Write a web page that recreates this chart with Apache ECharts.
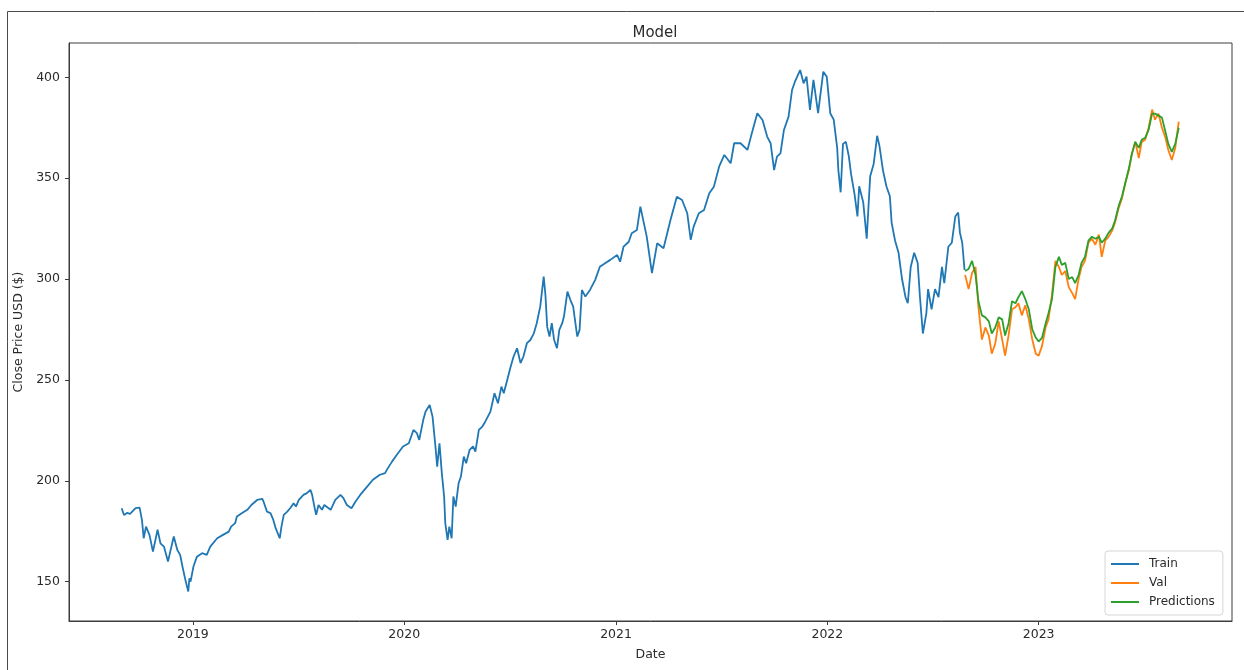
<!DOCTYPE html>
<html>
<head>
<meta charset="utf-8">
<title>Model</title>
<script src="https://cdn.jsdelivr.net/npm/echarts@6/dist/echarts.min.js"></script>
<style>
  html, body { margin: 0; padding: 0; background: #fff; }
  #chart { width: 1244px; height: 670px; }
</style>
</head>
<body>
<div id="chart"></div>
<script>
// train close
const trainDates = [
  '2018-08-31','2018-09-04','2018-09-10','2018-09-14','2018-09-24','2018-10-01','2018-10-05','2018-10-08','2018-10-12','2018-10-18',
  '2018-10-24','2018-11-01','2018-11-06','2018-11-12','2018-11-19','2018-11-23','2018-11-29','2018-12-05','2018-12-10','2018-12-14',
  '2018-12-19','2018-12-24','2018-12-26','2018-12-28','2019-01-02','2019-01-08','2019-01-17','2019-01-25','2019-01-31','2019-02-12',
  '2019-02-22','2019-03-04','2019-03-08','2019-03-15','2019-03-18','2019-03-27','2019-04-05','2019-04-12','2019-04-22','2019-05-01',
  '2019-05-03','2019-05-09','2019-05-15','2019-05-20','2019-05-24','2019-05-31','2019-06-03','2019-06-07','2019-06-13','2019-06-18',
  '2019-06-24','2019-06-28','2019-07-03','2019-07-11','2019-07-17','2019-07-23','2019-07-26','2019-07-31','2019-08-02','2019-08-06',
  '2019-08-12','2019-08-16','2019-08-27','2019-09-04','2019-09-13','2019-09-18','2019-09-24','2019-10-02','2019-10-09','2019-10-17',
  '2019-10-29','2019-11-08','2019-11-20','2019-11-29','2019-12-02','2019-12-11','2019-12-19','2019-12-30','2020-01-09','2020-01-17',
  '2020-01-23','2020-01-27','2020-02-03','2020-02-07','2020-02-14','2020-02-19','2020-02-24','2020-02-27','2020-03-02','2020-03-06',
  '2020-03-10','2020-03-12','2020-03-16','2020-03-19','2020-03-23','2020-03-26','2020-03-30','2020-04-04','2020-04-08','2020-04-13',
  '2020-04-17','2020-04-23','2020-04-29','2020-05-03','2020-05-09','2020-05-15','2020-05-20','2020-05-29','2020-06-05','2020-06-11',
  '2020-06-17','2020-06-21','2020-06-27','2020-07-03','2020-07-08','2020-07-14','2020-07-20','2020-07-25','2020-07-31','2020-08-06',
  '2020-08-12','2020-08-17','2020-08-23','2020-08-29','2020-09-01','2020-09-04','2020-09-08','2020-09-12','2020-09-16','2020-09-21',
  '2020-09-25','2020-09-30','2020-10-03','2020-10-09','2020-10-14','2020-10-19','2020-10-22','2020-10-26','2020-10-30','2020-11-03',
  '2020-11-09','2020-11-17','2020-11-26','2020-12-04','2020-12-13','2020-12-22','2021-01-03','2021-01-08','2021-01-14','2021-01-23',
  '2021-01-28','2021-02-06','2021-02-12','2021-02-23','2021-03-04','2021-03-13','2021-03-24','2021-04-05','2021-04-16','2021-04-25',
  '2021-05-04','2021-05-10','2021-05-15','2021-05-24','2021-06-02','2021-06-11','2021-06-19','2021-06-28','2021-07-07','2021-07-18',
  '2021-07-24','2021-08-04','2021-08-16','2021-08-22','2021-09-02','2021-09-11','2021-09-19','2021-09-25','2021-10-01','2021-10-06',
  '2021-10-12','2021-10-18','2021-10-26','2021-11-01','2021-11-06','2021-11-15','2021-11-21','2021-11-26','2021-12-02','2021-12-08',
  '2021-12-16','2021-12-25','2021-12-31','2022-01-06','2022-01-12','2022-01-18','2022-01-20','2022-01-24','2022-01-28','2022-02-02',
  '2022-02-07','2022-02-11','2022-02-17','2022-02-22','2022-02-25','2022-03-04','2022-03-10','2022-03-16','2022-03-22','2022-03-28',
  '2022-04-01','2022-04-07','2022-04-13','2022-04-19','2022-04-22','2022-04-28','2022-05-04','2022-05-10','2022-05-16','2022-05-20',
  '2022-05-25','2022-05-31','2022-06-06','2022-06-10','2022-06-15','2022-06-21','2022-06-24','2022-06-30','2022-07-06','2022-07-12',
  '2022-07-18','2022-07-22','2022-07-29','2022-08-04','2022-08-10','2022-08-15','2022-08-18','2022-08-22','2022-08-26'
];
const trainClose = [
  186.4,183,184.2,183.5,186.4,186.7,180.6,171.5,177.3,173.2,
  164.9,175.7,169,167.4,160,165,172.4,165.8,163.3,157.5,
  150.9,145.1,151.7,150,157.5,162.4,164.1,163.3,167.4,171.5,
  173.2,174.8,177.3,179,182.3,184,185.6,188,190.5,191,
  189.7,184.7,184,180.6,176.5,171.5,177.3,183.1,184.7,186.4,
  188.9,187.2,190.5,193,193.9,195.5,193,185.6,183.1,188,
  185.6,188,185.6,190.5,193,191.4,188,186.4,189.7,193,
  197.1,200.5,203,203.8,205.4,209.5,212.8,217,218.6,225.2,
  223.6,220.3,230.2,234.3,237.6,231.8,217,207,218.6,203.8,
  192.2,179,170.7,177.3,171.5,192.2,187.2,198.8,202.1,212,
  208.7,215.3,217,214.5,225.2,226.9,229.3,234.3,243.4,238.4,
  246.7,243.4,250,256.6,261.6,265.7,258.3,261.6,268.2,269.8,
  273.1,278.1,286.3,301.2,292.1,276.4,271.5,278.1,269.8,265.7,
  274.8,278.1,281.4,293.8,289.7,286.3,279.7,271.5,274.8,294.6,
  291.3,294.6,299.6,306.1,307.8,309.5,311.9,308.6,316.1,318.5,
  322.7,324.3,335.9,321,302.9,317.7,315.3,329.3,340.8,339.2,
  332.6,319.4,326,332.6,334.2,342.5,345.8,355.7,361.5,357.4,
  367.3,367.3,364,370.6,382.2,378.8,370.6,367.3,354,360.7,
  362.3,373.9,380.5,393.7,397.8,403.6,397,400.3,383.8,398.7,
  382.2,402.8,400.3,382.2,379,365,354,343,367,368,
  361,352,342,331,346,338,320,351,357,371,
  366,354,346,341,328,319,313,300,291,288,
  306,313,308,291,273,283,295,285,295,291,
  306,298,316,318,331,333,323,318,304.5
];

// validation period: actual close and model predictions
const valDates = [
  '2022-08-27','2022-09-02','2022-09-08','2022-09-14','2022-09-19','2022-09-25','2022-10-01','2022-10-07','2022-10-12','2022-10-18',
  '2022-10-24','2022-10-30','2022-11-04','2022-11-10','2022-11-16','2022-11-22','2022-11-27','2022-12-03','2022-12-09','2022-12-15',
  '2022-12-21','2022-12-27','2023-01-01','2023-01-07','2023-01-13','2023-01-18','2023-01-24','2023-01-30','2023-02-05','2023-02-10',
  '2023-02-16','2023-02-22','2023-02-28','2023-03-05','2023-03-11','2023-03-16','2023-03-22','2023-03-28','2023-04-03','2023-04-09',
  '2023-04-15','2023-04-20','2023-04-26','2023-05-02','2023-05-08','2023-05-13','2023-05-19','2023-05-25','2023-05-31','2023-06-06',
  '2023-06-11','2023-06-17','2023-06-23','2023-06-28','2023-07-04','2023-07-10','2023-07-16','2023-07-21','2023-07-27','2023-08-02',
  '2023-08-08','2023-08-13','2023-08-19','2023-08-25','2023-08-31'
];
const valClose = [
  302,295,303,306,286,270,276,272,263,268,
  279,270,262,272,285,286,288,282,287,280,
  270,263,262,267,276,280,292,309,306,302,
  304,296,293,290,300,306,309,318,320,317,
  322,311,319,321,324,328,335,340,348,354,
  362,368,360,368,369,375,384,379,382,375,
  370,364,359,365,378
];
const predClose = [
  304,305,309,302,289,282,281,279,273,276,
  281,280,272,278,289,288,291,294,290,285,
  275,271,269,271,278,283,290,306,311,307,
  308,300,301,298,302,308,311,319,321,320,
  321,318,320,323,325,329,336,341,348,355,
  362,368,365,369,370,374,382,382,381,380,
  373,367,363,367,375
];

const yTicks = [150, 200, 250, 300, 350, 400];
const xTickYears = [2019, 2020, 2021, 2022, 2023];

const ts = s => Date.UTC(+s.slice(0, 4), +s.slice(5, 7) - 1, +s.slice(8, 10));
const pairs = (dates, vals) => dates.map((d, i) => [ts(d), vals[i]]);
const yearTicks = xTickYears.map(y => Date.UTC(y, 0, 1));

const font = 'DejaVu Sans';
const ink = '#2b2b2b';

const chart = echarts.init(document.getElementById('chart'));
chart.setOption({
  backgroundColor: '#fff',
  animation: false,
  title: {
    text: 'Model',
    left: 650,
    textAlign: 'center',
    top: 21,
    textStyle: { fontFamily: font, fontSize: 15, fontWeight: 'normal', color: ink }
  },
  legend: {
    left: 1105,
    top: 551,
    orient: 'vertical',
    icon: 'rect',
    itemWidth: 28,
    itemHeight: 2,
    itemGap: 5,
    padding: [6, 8, 6, 6],
    backgroundColor: 'rgba(255,255,255,0.85)',
    borderColor: '#d6d6d6',
    borderWidth: 1,
    borderRadius: 3,
    textStyle: { fontFamily: font, fontSize: 12, color: ink, lineHeight: 14, padding: [0, 0, 0, 5] },
    data: ['Train', 'Val', 'Predictions']
  },
  grid: {
    left: 69, right: 12, top: 43, bottom: 49,
    show: true, borderColor: '#3c3c3c', borderWidth: 1
  },
  xAxis: {
    type: 'value',
    min: ts('2018-06-01'),
    max: ts('2023-12-01'),
    name: 'Date',
    nameLocation: 'middle',
    nameGap: 27,
    nameTextStyle: { fontFamily: font, fontSize: 12.5, color: ink },
    axisLine: { show: true, lineStyle: { color: '#3c3c3c' } },
    axisTick: { show: true, length: 4, lineStyle: { color: '#3c3c3c' }, customValues: yearTicks },
    axisLabel: {
      fontFamily: font, fontSize: 12.5, color: ink, margin: 7,
      customValues: yearTicks,
      formatter: v => String(new Date(v).getUTCFullYear())
    },
    splitLine: { show: false }
  },
  yAxis: {
    type: 'value',
    min: 130.5,
    max: 417,
    name: 'Close Price USD ($)',
    nameLocation: 'middle',
    nameGap: 35,
    nameTextStyle: { fontFamily: font, fontSize: 12.5, color: ink },
    axisLine: { show: true, lineStyle: { color: '#3c3c3c' } },
    axisTick: { show: true, length: 4, lineStyle: { color: '#3c3c3c' }, customValues: yTicks },
    axisLabel: { fontFamily: font, fontSize: 12.5, color: ink, margin: 9, customValues: yTicks },
    splitLine: { show: false }
  },
  graphic: [{
    // scanned page frame
    type: 'rect', silent: true,
    shape: { x: 7.5, y: 11.5, width: 1400, height: 800 },
    style: { fill: 'none', stroke: '#4a4a4a', lineWidth: 1 }
  }],
  series: [
    {
      name: 'Train', type: 'line', symbol: 'none',
      lineStyle: { width: 1.8, color: '#1f77b4' }, itemStyle: { color: '#1f77b4' },
      data: pairs(trainDates, trainClose)
    },
    {
      name: 'Val', type: 'line', symbol: 'none',
      lineStyle: { width: 1.8, color: '#ff7f0e' }, itemStyle: { color: '#ff7f0e' },
      data: pairs(valDates, valClose)
    },
    {
      name: 'Predictions', type: 'line', symbol: 'none',
      lineStyle: { width: 1.8, color: '#2ca02c' }, itemStyle: { color: '#2ca02c' },
      data: pairs(valDates, predClose)
    }
  ]
});
</script>
</body>
</html>
